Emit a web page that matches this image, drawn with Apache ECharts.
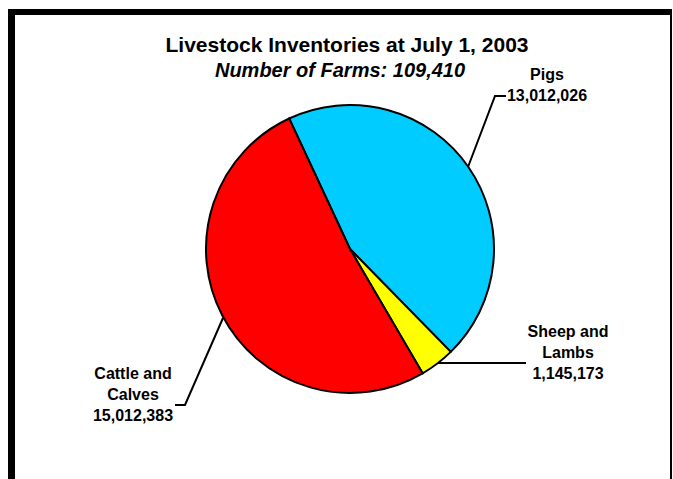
<!DOCTYPE html>
<html><head><meta charset="utf-8">
<script src="https://cdn.jsdelivr.net/npm/echarts@6/dist/echarts.min.js"></script>
<style>html,body{margin:0;padding:0;background:#fff}#c{width:673px;height:479px}</style>
</head><body><div id="c"></div>
<script>
// ---- data ----
const categories = ['Pigs', 'Sheep and\nLambs', 'Cattle and\nCalves'];
const values = [13012026, 1145173, 15012383];
const titleText = 'Livestock Inventories at July 1, 2003';
const subtitleText = 'Number of Farms: 109,410';

// ---- style / layout ----
const colors = ['#00CCFF', '#FFFF00', '#FF0000'];
const labelLayoutCfg = [
  { x: 547, y: 85, line: [[468, 167], [495, 96], [506, 96]] },
  { x: 568, y: 352, line: [[436, 363], [480, 363], [526, 363]] },
  { x: 133, y: 394, line: [[223, 318], [185, 405], [175, 405]] }
];
const FONT = '"Liberation Sans", Arial, sans-serif';

const chart = echarts.init(document.getElementById('c'), null, { renderer: 'svg' });
chart.setOption({
  backgroundColor: '#fff',
  animation: false,
  graphic: [
    { type: 'rect', shape: { x: 8, y: 9, width: 7, height: 470 }, style: { fill: '#000' } },
    { type: 'rect', shape: { x: 8, y: 9, width: 664, height: 6 }, style: { fill: '#000' } },
    { type: 'rect', shape: { x: 670, y: 9, width: 2, height: 470 }, style: { fill: '#000' } },
    { type: 'text', x: 347, y: 44, style: { text: titleText, fontFamily: FONT, fontWeight: 'bold', fontSize: 21, fill: '#000', align: 'center', verticalAlign: 'middle' } },
    { type: 'text', x: 340, y: 70, style: { text: subtitleText, fontFamily: FONT, fontWeight: 'bold', fontStyle: 'italic', fontSize: 20, fill: '#000', align: 'center', verticalAlign: 'middle' } }
  ],
  series: [{
    type: 'pie',
    center: [350, 249],
    radius: 144,
    startAngle: 115,
    clockwise: true,
    avoidLabelOverlap: false,
    data: categories.map((n, i) => ({ name: n, value: values[i], itemStyle: { color: colors[i] } })),
    itemStyle: { borderColor: '#000', borderWidth: 2 },
    label: {
      show: true,
      position: 'outside',
      color: '#000',
      fontFamily: FONT,
      fontWeight: 'bold',
      fontSize: 16,
      lineHeight: 21,
      align: 'center',
      formatter: p => p.name + '\n' + p.value.toLocaleString('en-US')
    },
    labelLine: { show: true, lineStyle: { color: '#000', width: 2 } },
    labelLayout: p => {
      const c = labelLayoutCfg[p.dataIndex];
      return { x: c.x, y: c.y, align: 'center', verticalAlign: 'middle', labelLinePoints: c.line };
    },
    emphasis: { disabled: true }
  }]
});
</script></body></html>
